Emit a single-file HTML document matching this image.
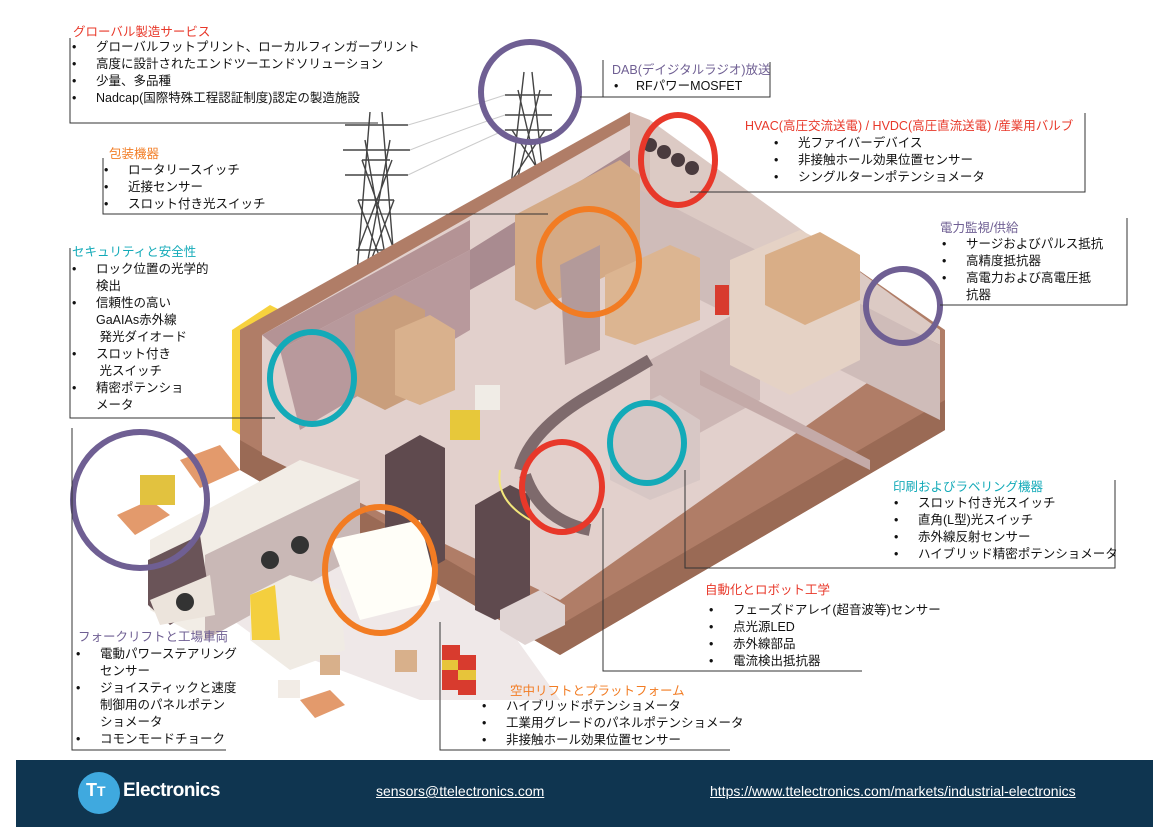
<!DOCTYPE html>
<html><head><meta charset="utf-8"><style>
html,body{margin:0;padding:0;background:#fff;}
body{width:1170px;height:827px;position:relative;overflow:hidden;font-family:"Liberation Sans","Noto Sans CJK JP",sans-serif;color:#111;}
.t{position:absolute;font-size:12.5px;line-height:17px;white-space:nowrap;}
.h{position:absolute;font-size:12.5px;line-height:16px;white-space:nowrap;}
.t div{position:relative;padding-left:28px;}
.t div b{position:absolute;left:4px;font-weight:normal;}
</style></head><body>
<svg width="1170" height="827" style="position:absolute;left:0;top:0">
<polygon points="150,560 300,470 460,560 560,700 420,700 260,640" fill="#efe8e8"/>
<g stroke="#444" stroke-width="1.4" fill="none">
<path d="M370,112 L352,335 M382,112 L400,335 M362,160 L390,160 M358,200 L394,200 M356,250 L396,250 M355,300 L398,300 M345,125 L408,125 M343,150 L410,150 M345,175 L408,175"/>
<path d="M355,330 L390,140 M398,330 L365,140 M356,300 L394,200 M396,300 L358,200 M358,250 L392,160 M394,250 L362,160"/>
<path d="M524,72 L508,212 M532,72 L547,212 M505,95 L552,95 M505,115 L552,115 M505,130 L552,130 M512,180 L545,180"/>
<path d="M510,208 L540,90 M546,208 L518,90 M512,180 L545,130 M545,180 L512,130"/>
</g>
<g stroke="#ccc" stroke-width="1" fill="none">
<path d="M408,125 Q460,110 505,95 M410,150 Q460,130 505,115 M408,175 Q460,150 505,130"/>
</g>
<polygon points="232,330 270,305 300,320 300,470 232,430" fill="#f7d23e"/>
<polygon points="240,330 630,112 945,330 945,430 560,655 240,470" fill="#b07d67"/>
<polygon points="240,470 560,655 945,430 945,400 560,625 240,440" fill="#9a6a55"/>
<polygon points="262,335 630,125 935,335 560,600 262,455" fill="#e2d0cc"/>
<polygon points="262,335 470,220 470,250 280,350" fill="#b49395"/>
<polygon points="630,112 650,120 650,200 630,195" fill="#d6bdb5"/>
<polygon points="650,120 940,330 940,345 650,200" fill="#dccac4"/>
<polygon points="470,250 630,150 630,200 560,240 470,290" fill="#a98b90"/>
<polygon points="640,190 940,345 940,420 640,270" fill="#cfbcb9"/>
<polygon points="280,350 470,250 470,330 300,430" fill="#b8999c"/>
<polygon points="650,360 760,300 760,400 650,460" fill="#cdb7b5"/>
<polygon points="700,370 870,460 870,470 700,385" fill="#c4aaa8"/>
<polygon points="355,315 395,295 425,310 425,390 385,410 355,395" fill="#c99e7c"/>
<polygon points="395,330 430,315 455,330 455,390 420,405 395,395" fill="#d9b18d"/>
<polygon points="515,215 620,160 640,175 640,260 535,310 515,300" fill="#d4aa86"/>
<polygon points="605,275 670,245 700,258 700,320 635,345 605,335" fill="#dcb591"/>
<polygon points="730,260 800,230 860,260 860,360 790,395 730,365" fill="#e5d2c5"/>
<polygon points="765,255 820,232 860,255 860,300 805,325 765,305" fill="#d9ae87"/>
<polygon points="560,265 600,245 600,350 565,365" fill="#b39a9a"/>
<polygon points="385,455 420,435 445,448 445,560 410,580 385,565" fill="#5f4a4e"/>
<polygon points="475,505 510,485 530,495 530,605 495,620 475,610" fill="#5f4a4e"/>
<polygon points="150,540 300,460 360,480 360,555 205,640 150,610" fill="#f2ede6"/>
<polygon points="205,555 360,480 360,555 205,640" fill="#c9b8b6"/>
<polygon points="148,560 200,535 210,600 170,625 148,605" fill="#6a5458"/>
<polygon points="150,600 210,575 215,615 160,625" fill="#ece4dc"/>
<circle cx="185" cy="602" r="9" fill="#333"/><circle cx="270" cy="560" r="9" fill="#333"/><circle cx="300" cy="545" r="9" fill="#333"/>
<polygon points="250,595 290,575 340,590 345,650 290,670 250,640" fill="#f0ebe4"/>
<polygon points="250,595 275,585 280,640 252,640" fill="#f4cf3e"/>
<polygon points="180,460 220,445 240,470 200,488" fill="#e39a6c"/>
<polygon points="117,515 150,500 170,515 135,535" fill="#e39a6c"/>
<rect x="140" y="475" width="35" height="30" fill="#e2c23f"/>
<polygon points="300,700 330,690 345,705 315,718" fill="#e39a6c"/>
<rect x="278" y="680" width="22" height="18" fill="#f2ece6"/>
<rect x="320" y="655" width="20" height="20" fill="#d8b08b"/><rect x="395" y="650" width="22" height="22" fill="#d8b08b"/>
<rect x="442" y="645" width="18" height="45" fill="#d83b2e"/><rect x="442" y="660" width="18" height="10" fill="#e7c43a"/>
<rect x="458" y="655" width="18" height="40" fill="#d83b2e"/><rect x="458" y="670" width="18" height="10" fill="#e7c43a"/>
<polygon points="500,610 540,590 565,605 565,625 525,645 500,630" fill="#e0d4d3"/>
<path d="M520,470 Q530,430 590,395 L650,360" stroke="#7e6a6c" stroke-width="12" fill="none"/>
<path d="M525,475 Q540,520 590,530" stroke="#7e6a6c" stroke-width="12" fill="none"/>
<polygon points="610,420 660,395 700,420 700,480 650,500 610,480" fill="#d7c7c5"/>
<rect x="450" y="410" width="30" height="30" fill="#e7c83a"/>
<rect x="475" y="385" width="25" height="25" fill="#f0ece6"/>
<path d="M500,470 Q495,500 530,520" stroke="#f3e77b" stroke-width="2" fill="none"/>
<polygon points="330,540 420,520 440,600 360,620" fill="#fffef8"/>
<rect x="715" y="285" width="14" height="30" fill="#d83b2e"/>
<g fill="#4a3b3e"><circle cx="650" cy="145" r="7"/><circle cx="664" cy="152" r="7"/><circle cx="678" cy="160" r="7"/><circle cx="692" cy="168" r="7"/></g>
<g fill="none" stroke-width="6">
<ellipse cx="530" cy="92" rx="49" ry="50" stroke="#6f5f93"/>
<ellipse cx="678" cy="160" rx="37" ry="45" stroke="#e8382a"/>
<ellipse cx="589" cy="262" rx="50" ry="53" stroke="#f27c23"/>
<ellipse cx="312" cy="378" rx="42" ry="46" stroke="#13aab8"/>
<ellipse cx="140" cy="500" rx="67" ry="68" stroke="#6f5f93"/>
<ellipse cx="380" cy="570" rx="55" ry="63" stroke="#f27c23"/>
<ellipse cx="562" cy="487" rx="40" ry="45" stroke="#e8382a"/>
<ellipse cx="647" cy="443" rx="37" ry="40" stroke="#13aab8"/>
<ellipse cx="903" cy="306" rx="37" ry="37" stroke="#6f5f93"/>
</g>
<g stroke="#333" stroke-width="1" fill="none">
<path d="M70,38 V123 H378"/>
<path d="M103,158 V214 H548"/>
<path d="M70,248 V418 H275"/>
<path d="M72,428 V750 H226"/>
<path d="M440,622 V750 H730"/>
<path d="M603,508 V671 H862"/>
<path d="M685,470 V568 H1115 V480"/>
<path d="M690,192 H1085 V113"/>
<path d="M940,305 H1127 V218"/>
<path d="M580,97 H603 V60 M603,97 H770 V62"/>
</g>
<rect x="16" y="760" width="1137" height="67" fill="#0f3550"/>
<circle cx="99" cy="793" r="21" fill="#3fa9df"/>
</svg>

<div class="h" style="left:73px;top:24px;color:#e8382a">グローバル製造サービス</div>
<div class="t" style="left:68px;top:39px"><div><b>•</b>グローバルフットプリント、ローカルフィンガープリント</div><div><b>•</b>高度に設計されたエンドツーエンドソリューション</div><div><b>•</b>少量、多品種</div><div><b>•</b>Nadcap(国際特殊工程認証制度)認定の製造施設</div></div>

<div class="h" style="left:109px;top:146px;color:#f27c23">包装機器</div>
<div class="t" style="left:100px;top:162px"><div><b>•</b>ロータリースイッチ</div><div><b>•</b>近接センサー</div><div><b>•</b>スロット付き光スイッチ</div></div>

<div class="h" style="left:72px;top:244px;color:#13aab8">セキュリティと安全性</div>
<div class="t" style="left:68px;top:261px"><div><b>•</b>ロック位置の光学的<br>検出</div><div><b>•</b>信頼性の高い<br>GaAIAs赤外線<br>&nbsp;発光ダイオード</div><div><b>•</b>スロット付き<br>&nbsp;光スイッチ</div><div><b>•</b>精密ポテンショ<br>メータ</div></div>

<div class="h" style="left:78px;top:629px;color:#6f5f93">フォークリフトと工場車両</div>
<div class="t" style="left:72px;top:646px"><div><b>•</b>電動パワーステアリング<br>センサー</div><div><b>•</b>ジョイスティックと速度<br>制御用のパネルポテン<br>ショメータ</div><div><b>•</b>コモンモードチョーク</div></div>

<div class="h" style="left:510px;top:683px;color:#f27c23">空中リフトとプラットフォーム</div>
<div class="t" style="left:478px;top:698px"><div><b>•</b>ハイブリッドポテンショメータ</div><div><b>•</b>工業用グレードのパネルポテンショメータ</div><div><b>•</b>非接触ホール効果位置センサー</div></div>

<div class="h" style="left:705px;top:582px;color:#e8382a">自動化とロボット工学</div>
<div class="t" style="left:705px;top:602px"><div><b>•</b>フェーズドアレイ(超音波等)センサー</div><div><b>•</b>点光源LED</div><div><b>•</b>赤外線部品</div><div><b>•</b>電流検出抵抗器</div></div>

<div class="h" style="left:893px;top:479px;color:#13aab8">印刷およびラベリング機器</div>
<div class="t" style="left:890px;top:495px"><div><b>•</b>スロット付き光スイッチ</div><div><b>•</b>直角(L型)光スイッチ</div><div><b>•</b>赤外線反射センサー</div><div><b>•</b>ハイブリッド精密ポテンショメータ</div></div>

<div class="h" style="left:745px;top:118px;color:#e8382a">HVAC(高圧交流送電) / HVDC(高圧直流送電) /産業用バルブ</div>
<div class="t" style="left:770px;top:135px"><div><b>•</b>光ファイバーデバイス</div><div><b>•</b>非接触ホール効果位置センサー</div><div><b>•</b>シングルターンポテンショメータ</div></div>

<div class="h" style="left:940px;top:220px;color:#6f5f93">電力監視/供給</div>
<div class="t" style="left:938px;top:236px"><div><b>•</b>サージおよびパルス抵抗</div><div><b>•</b>高精度抵抗器</div><div><b>•</b>高電力および高電圧抵<br>抗器</div></div>

<div class="h" style="left:612px;top:62px;color:#6f5f93">DAB(デイジタルラジオ)放送</div>
<div class="t" style="left:610px;top:78px"><div style="padding-left:26px"><b>•</b>RFパワーMOSFET</div></div>

<div style="position:absolute;left:86px;top:780px;color:#fff;font-size:18px;font-weight:bold">T<span style="font-size:14px">T</span></div>
<div style="position:absolute;left:123px;top:780px;color:#fff;font-size:19px;font-weight:bold;letter-spacing:-0.5px">Electronics</div>
<div style="position:absolute;left:376px;top:783px;color:#fff;font-size:14px;text-decoration:underline">sensors@ttelectronics.com</div>
<div style="position:absolute;left:710px;top:783px;color:#fff;font-size:14px;text-decoration:underline">https://www.ttelectronics.com/markets/industrial-electronics</div>
</body></html>
